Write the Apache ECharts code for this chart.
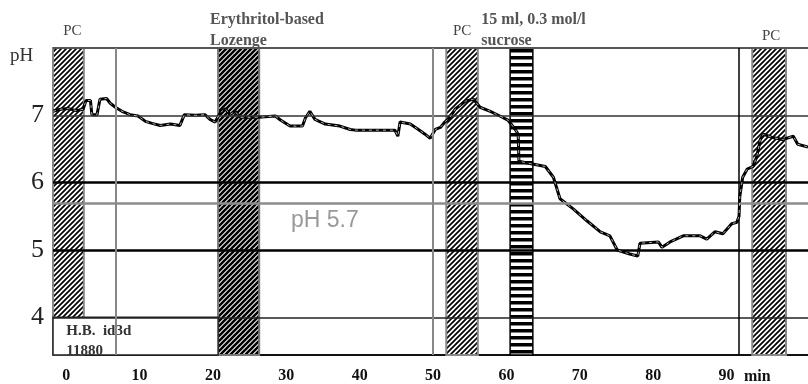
<!DOCTYPE html>
<html>
<head>
<meta charset="utf-8">
<script src="https://cdn.jsdelivr.net/npm/echarts@6/dist/echarts.min.js"></script>
<style>
  html, body { margin: 0; padding: 0; background: #fff; }
  #main { width: 808px; height: 384px; }
</style>
</head>
<body>
<div id="main"></div>
<script>
// minutes / pH
var times = [-1.8, -0.8, 0.3, 1.4, 2.3, 2.7, 3.3, 3.5, 4.2, 4.6, 5.5, 6.0, 6.7, 7.6, 8.7, 9.8,
  10.8, 11.7, 12.8, 14.2, 15.5, 16.1, 17.6, 18.9, 19.6, 20.3, 21.0, 21.7, 22.3, 23.0, 23.7,
  26.2, 28.5, 29.2, 30.5, 32.2, 32.6, 33.2, 33.9, 35.3, 37.3, 38.7, 39.4, 44.8, 45.2, 45.5,
  46.9, 48.0, 48.9, 49.6, 50.3, 51.0, 51.6, 52.3, 53.0, 54.4, 55.5, 56.4, 57.8, 59.1, 60.2,
  61.2, 61.6, 61.7, 62.5, 63.9, 65.3, 66.4, 67.3, 69.1, 71.0, 72.8, 74.1, 75.1, 76.8, 77.9,
  78.2, 80.7, 81.2, 82.3, 84.1, 86.4, 87.3, 88.4, 89.5, 90.7, 91.4, 91.7, 91.8, 92.2, 92.8,
  93.6, 94.1, 94.6, 95.0, 96.3, 97.6, 99.1, 99.7, 101.1];
var ph = [7.06, 7.09, 7.10, 7.07, 7.09, 7.22, 7.22, 7.01, 7.01, 7.24, 7.25, 7.18, 7.12, 7.06, 7.01, 6.99,
  6.91, 6.88, 6.85, 6.87, 6.85, 7.01, 7.00, 7.01, 6.94, 6.90, 7.04, 7.10, 7.01, 7.06, 6.97,
  6.97, 6.99, 6.93, 6.84, 6.84, 6.96, 7.06, 6.94, 6.87, 6.84, 6.79, 6.78, 6.78, 6.69, 6.90,
  6.87, 6.79, 6.72, 6.66, 6.79, 6.82, 6.90, 6.97, 7.09, 7.21, 7.24, 7.12, 7.06, 6.99, 6.93,
  6.79, 6.72, 6.32, 6.30, 6.27, 6.24, 6.08, 5.76, 5.61, 5.43, 5.27, 5.21, 5.00, 4.94, 4.91,
  5.10, 5.12, 5.04, 5.12, 5.21, 5.21, 5.16, 5.27, 5.24, 5.39, 5.41, 5.50, 5.79, 6.08, 6.20,
  6.24, 6.38, 6.64, 6.72, 6.67, 6.64, 6.69, 6.57, 6.53];

var xTicks = [0, 10, 20, 30, 40, 50, 60, 70, 80, 90];
var yTicks = [4, 5, 6, 7];
var pcBands = [[-1.8, 2.4], [51.8, 56.1], [93.5, 98.1]];
var lozengeBand = [20.7, 26.3];
var sucroseBand = [60.5, 63.6];
var grayMarks = [6.8, 49.9];
var blackMarks = [91.6];
var refLevel = 5.7;

var X_MIN = -1.8, X_MAX = 101.1, Y_MIN = 3.44, Y_MAX = 8.0;
var serif = '"Liberation Serif", "DejaVu Serif", serif';

function diag(size, w) {
  var c = document.createElement('canvas');
  c.width = c.height = size;
  var g = c.getContext('2d');
  g.fillStyle = '#fff';
  g.fillRect(0, 0, size, size);
  g.strokeStyle = '#000';
  g.lineWidth = w;
  g.beginPath();
  g.moveTo(-1, size + 1); g.lineTo(size + 1, -1);
  g.moveTo(-1, 1); g.lineTo(1, -1);
  g.moveTo(size - 1, size + 1); g.lineTo(size + 1, size - 1);
  g.stroke();
  return c;
}
function stripes(h, dark) {
  var c = document.createElement('canvas');
  c.width = 4; c.height = h;
  var g = c.getContext('2d');
  g.fillStyle = '#fff';
  g.fillRect(0, 0, 4, h);
  g.fillStyle = '#000';
  g.fillRect(0, 0, 4, dark);
  return c;
}

var pcFill = { image: diag(5, 1.7), repeat: 'repeat' };
var lozFill = { image: diag(5, 2.6), repeat: 'repeat' };
var sucFill = { image: stripes(7, 3.5), repeat: 'repeat' };

var pcLabelOffsets = [[4, -1], [0, -1], [2, 4]];
var bandData = pcBands.map(function (b, i) {
  return [{
    xAxis: b[0], yAxis: Y_MIN,
    itemStyle: { color: pcFill, borderColor: '#888', borderWidth: 2 },
    label: { show: true, position: 'top', distance: 7, offset: pcLabelOffsets[i], formatter: 'PC',
      fontFamily: serif, fontSize: 15, color: '#444' }
  }, { xAxis: b[1], yAxis: Y_MAX }];
});
bandData.push([{
  xAxis: lozengeBand[0], yAxis: Y_MIN,
  itemStyle: { color: lozFill, borderColor: '#777', borderWidth: 2 },
  label: { show: true, position: [-7, -38], formatter: 'Erythritol-based\nLozenge',
    fontFamily: serif, fontSize: 16, fontWeight: 'bold', color: '#555', lineHeight: 21, align: 'left' }
}, { xAxis: lozengeBand[1], yAxis: Y_MAX }]);
bandData.push([{
  xAxis: sucroseBand[0], yAxis: Y_MIN,
  itemStyle: { color: sucFill, borderColor: '#000', borderWidth: 1.5 },
  label: { show: true, position: [-28, -38], formatter: '15 ml, 0.3 mol/l\nsucrose',
    fontFamily: serif, fontSize: 16, fontWeight: 'bold', color: '#555', lineHeight: 21, align: 'left' }
}, { xAxis: sucroseBand[1], yAxis: Y_MAX }]);

var hLines = [
  { yAxis: Y_MAX, lineStyle: { color: '#555', width: 2, type: 'solid' } },
  { yAxis: 7, lineStyle: { color: '#333', width: 1.5, type: 'solid' } },
  { yAxis: 6, lineStyle: { color: '#000', width: 2.5, type: 'solid' } },
  { yAxis: refLevel, lineStyle: { color: '#8c8c8c', width: 2.5, type: 'solid' } },
  { yAxis: 5, lineStyle: { color: '#000', width: 2.5, type: 'solid' } },
  { yAxis: 4, lineStyle: { color: '#222', width: 1.5, type: 'solid' } }
];
var vLines = grayMarks.map(function (v) {
  return { xAxis: v, lineStyle: { color: '#888', width: 2, type: 'solid' } };
}).concat(blackMarks.map(function (v) {
  return { xAxis: v, lineStyle: { color: '#000', width: 1.5, type: 'solid' } };
}));

var pairs = times.map(function (t, i) { return [t, ph[i]]; });

var chart = echarts.init(document.getElementById('main'), null, { renderer: 'canvas' });
chart.setOption({
  animation: false,
  backgroundColor: '#fff',
  grid: { left: 53, right: 0, top: 48, bottom: 27, show: false },
  xAxis: {
    type: 'value', min: X_MIN, max: X_MAX,
    axisLine: { show: true, lineStyle: { color: '#111', width: 2 } },
    axisTick: { show: false },
    splitLine: { show: false },
    axisLabel: {
      customValues: xTicks, margin: 13,
      fontFamily: serif, fontSize: 16, fontWeight: 'bold', color: '#111',
      formatter: function (v) { return String(v); }
    }
  },
  yAxis: {
    type: 'value', min: Y_MIN, max: Y_MAX,
    axisLine: { show: false },
    axisTick: { show: false },
    splitLine: { show: false },
    axisLabel: { customValues: yTicks, margin: 9, fontFamily: serif, fontSize: 26, color: '#222' }
  },
  graphic: [
    { type: 'text', left: 10, top: 47, style: { text: 'pH', font: '19px ' + serif, fill: '#333' } },
    { type: 'text', left: 744, top: 369, style: { text: 'min', font: 'bold 16px ' + serif, fill: '#111' } },
    { type: 'text', left: 291, top: 209, style: { text: 'pH 5.7', font: '23px "Liberation Sans", Arial, sans-serif', fill: '#999' } }
  ],
  series: [
    {
      type: 'line', data: [], z: 1, silent: true,
      markArea: { silent: true, data: bandData }
    },
    {
      type: 'line', data: [], z: 2, silent: true,
      markLine: { silent: true, symbol: ['none', 'none'], label: { show: false }, data: hLines.concat(vLines) }
    },
    {
      type: 'line', data: [], z: 3, silent: true,
      markArea: {
        silent: true,
        data: [[{
          xAxis: X_MIN, yAxis: 4,
          itemStyle: { color: '#fff', borderColor: '#222', borderWidth: 1.5 },
          label: { show: true, position: [14, 5], formatter: 'H.B.  id3d\n11880', align: 'left',
            fontFamily: serif, fontSize: 15, fontWeight: 'bold', color: '#333', lineHeight: 20 }
        }, { xAxis: lozengeBand[0], yAxis: Y_MIN }]]
      }
    },
    {
      type: 'line', data: pairs, z: 4, symbol: 'none',
      lineStyle: { color: '#000', width: 3 }
    },
    {
      type: 'line', data: pairs, z: 5, symbol: 'none',
      lineStyle: { color: '#ddd', width: 0.8, type: [3, 4] }
    }
  ]
});
</script>
</body>
</html>
